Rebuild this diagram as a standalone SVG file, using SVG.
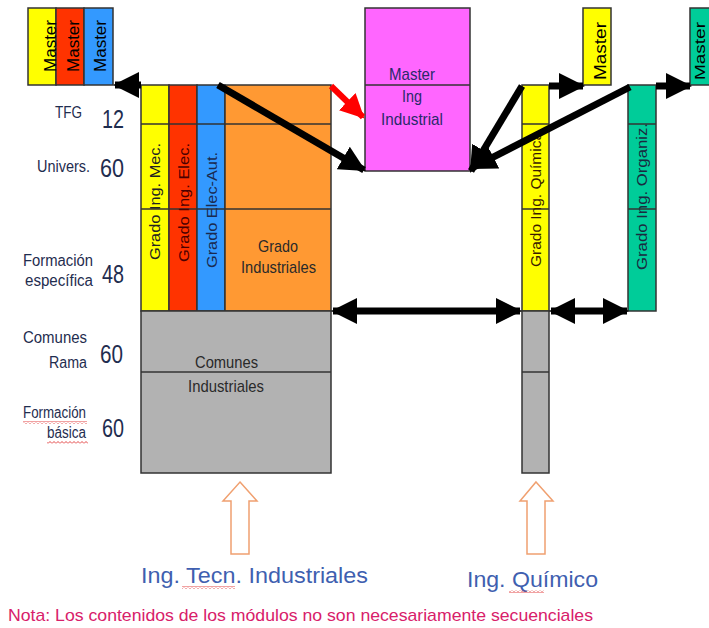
<svg xmlns="http://www.w3.org/2000/svg" width="709" height="628" viewBox="0 0 709 628">
<style>
text{font-family:"Liberation Sans",Arial,sans-serif;}
.box{stroke:#333;stroke-width:1.5;}
.ln{stroke:#333;stroke-width:1.5;}
.lbl{fill:#1f2d4f;font-size:16px;}
.num{fill:#1f2d4f;font-size:26px;}
.in{fill:#2a2a2a;font-size:17px;}
.v{font-size:15px;fill:#222;}
.m{font-size:17px;fill:#000;}
.arr{stroke:#000;stroke-width:7;fill:none;}
.big{fill:#3f5fb0;font-size:22px;}
.hol{fill:#fff;stroke:#f0a070;stroke-width:1.5;}
</style>
<defs>
<marker id="ah" markerUnits="userSpaceOnUse" markerWidth="26" markerHeight="26" refX="24" refY="13" orient="auto-start-reverse" viewBox="0 0 26 26">
<path d="M0,0 L26,13 L0,26 z" fill="#000"/>
</marker>
<marker id="ahr" markerUnits="userSpaceOnUse" markerWidth="24" markerHeight="24" refX="22" refY="12" orient="auto" viewBox="0 0 24 24">
<path d="M0,0 L24,12 L0,24 z" fill="#ff0000"/>
</marker>
<pattern id="sq" width="4" height="3" patternUnits="userSpaceOnUse">
<path d="M0,2.5 L2,0.5 L4,2.5" stroke="#e03030" stroke-width="0.9" fill="none"/>
</pattern>
</defs>

<g id="labels">
<text class="lbl" x="55" y="118" textLength="27" lengthAdjust="spacingAndGlyphs">TFG</text>
<text class="num" x="102" y="128" textLength="22" lengthAdjust="spacingAndGlyphs">12</text>
<text class="lbl" x="37" y="172" textLength="53" lengthAdjust="spacingAndGlyphs">Univers.</text>
<text class="num" x="100" y="177" textLength="24" lengthAdjust="spacingAndGlyphs">60</text>
<text class="lbl" x="23" y="266" textLength="70" lengthAdjust="spacingAndGlyphs">Formación</text>
<text class="lbl" x="25" y="286" textLength="68" lengthAdjust="spacingAndGlyphs">específica</text>
<text class="num" x="102" y="283" textLength="22" lengthAdjust="spacingAndGlyphs">48</text>
<text class="lbl" x="23" y="343" textLength="64" lengthAdjust="spacingAndGlyphs">Comunes</text>
<text class="lbl" x="49" y="368" textLength="38" lengthAdjust="spacingAndGlyphs">Rama</text>
<text class="num" x="100" y="363" textLength="23" lengthAdjust="spacingAndGlyphs">60</text>
<text class="lbl" x="23" y="418" textLength="63" lengthAdjust="spacingAndGlyphs">Formación</text>
<text class="lbl" x="47" y="438" textLength="39" lengthAdjust="spacingAndGlyphs">básica</text>
<text class="num" x="102" y="437" textLength="22" lengthAdjust="spacingAndGlyphs">60</text>
<rect x="23" y="421" width="64" height="3" fill="url(#sq)"/>
<rect x="47" y="441" width="41" height="3" fill="url(#sq)"/>
</g>

<g id="masters-left">
<rect class="box" x="28" y="8" width="28" height="77" fill="#ffff00"/>
<rect class="box" x="56" y="8" width="28" height="77" fill="#ff3300"/>
<rect class="box" x="84" y="8" width="29" height="77" fill="#3399ff"/>
<text class="m" transform="translate(56,72) rotate(-90)" textLength="52" lengthAdjust="spacingAndGlyphs">Master</text>
<text class="m" transform="translate(79,72) rotate(-90)" textLength="52" lengthAdjust="spacingAndGlyphs">Master</text>
<text class="m" transform="translate(106,72) rotate(-90)" textLength="52" lengthAdjust="spacingAndGlyphs">Master</text>
</g>

<g id="ing-tecn-industriales">
<rect class="box" x="141" y="85" width="28" height="226" fill="#ffff00"/>
<rect class="box" x="169" y="85" width="28" height="226" fill="#ff3300"/>
<rect class="box" x="197" y="85" width="28" height="226" fill="#3399ff"/>
<rect class="box" x="225" y="85" width="106" height="226" fill="#ff9933"/>
<line class="ln" x1="141" y1="124" x2="331" y2="124"/>
<line class="ln" x1="141" y1="209" x2="331" y2="209"/>
<rect class="box" x="141" y="311" width="190" height="162" fill="#b2b2b2"/>
<line class="ln" x1="141" y1="372" x2="331" y2="372"/>
<text class="v" transform="translate(160,260) rotate(-90)" textLength="117" lengthAdjust="spacingAndGlyphs" fill="#333">Grado Ing. Mec.</text>
<text class="v" transform="translate(189,262) rotate(-90)" textLength="119" lengthAdjust="spacingAndGlyphs" style="fill:#4a0000">Grado Ing. Elec.</text>
<text class="v" transform="translate(217,268) rotate(-90)" textLength="116" lengthAdjust="spacingAndGlyphs" style="fill:#1a2a50">Grado Elec-Aut.</text>
<text class="in" x="258" y="252" textLength="40" lengthAdjust="spacingAndGlyphs">Grado</text>
<text class="in" x="241" y="273" textLength="75" lengthAdjust="spacingAndGlyphs">Industriales</text>
<text class="in" x="195" y="368" textLength="63" lengthAdjust="spacingAndGlyphs">Comunes</text>
<text class="in" x="188" y="392" textLength="76" lengthAdjust="spacingAndGlyphs">Industriales</text>
</g>

<g id="master-ing-industrial">
<rect class="box" x="365" y="8" width="105" height="163" fill="#ff66ff"/>
<line class="ln" x1="365" y1="85" x2="470" y2="85"/>
<text class="in" x="389" y="80" textLength="46" lengthAdjust="spacingAndGlyphs" style="fill:#2a2a6a">Master</text>
<text class="in" x="402" y="102" textLength="20" lengthAdjust="spacingAndGlyphs" style="fill:#2a2a6a">Ing</text>
<text class="in" x="381" y="125" textLength="62" lengthAdjust="spacingAndGlyphs" style="fill:#2a2a6a">Industrial</text>
</g>

<g id="ing-quimico">
<rect class="box" x="522" y="85" width="27" height="226" fill="#ffff00"/>
<line class="ln" x1="522" y1="124" x2="549" y2="124"/>
<line class="ln" x1="522" y1="209" x2="549" y2="209"/>
<rect class="box" x="522" y="311" width="27" height="162" fill="#b2b2b2"/>
<line class="ln" x1="522" y1="372" x2="549" y2="372"/>
<text class="v" transform="translate(541,267) rotate(-90)" textLength="135" lengthAdjust="spacingAndGlyphs" style="fill:#3a1a00">Grado Ing. Química</text>
</g>

<g id="master-quimico">
<rect class="box" x="583" y="8" width="28" height="77" fill="#ffff00"/>
<text class="m" transform="translate(606,80) rotate(-90)" textLength="58" lengthAdjust="spacingAndGlyphs">Master</text>
</g>

<g id="ing-organizacion">
<rect class="box" x="628" y="85" width="28" height="226" fill="#00cc99"/>
<line class="ln" x1="628" y1="124" x2="656" y2="124"/>
<line class="ln" x1="628" y1="209" x2="656" y2="209"/>
<text class="v" transform="translate(647,270) rotate(-90)" textLength="147" lengthAdjust="spacingAndGlyphs" style="fill:#1a2a40">Grado Ing. Organiz.</text>
</g>

<g id="master-organizacion">
<rect class="box" x="690" y="8" width="30" height="77" fill="#00cc99"/>
<text transform="translate(705,80) rotate(-90)" font-size="15" fill="#000" textLength="58" lengthAdjust="spacingAndGlyphs">Master</text>
</g>

<g id="connectors">
<line class="arr" x1="141" y1="85" x2="115" y2="85" marker-end="url(#ah)"/>
<line class="arr" x1="218" y1="85" x2="364" y2="170" marker-end="url(#ah)"/>
<line x1="331" y1="86" x2="363" y2="117" stroke="#ff0000" stroke-width="6" marker-end="url(#ahr)"/>
<line class="arr" x1="522" y1="86" x2="471" y2="171" marker-end="url(#ah)"/>
<line class="arr" x1="630" y1="87" x2="472" y2="168" marker-end="url(#ah)"/>
<line class="arr" x1="549" y1="86" x2="583" y2="86" marker-end="url(#ah)"/>
<line class="arr" x1="656" y1="86" x2="690" y2="86" marker-end="url(#ah)"/>
<line class="arr" x1="333" y1="311" x2="520" y2="311" marker-start="url(#ah)" marker-end="url(#ah)"/>
<line class="arr" x1="551" y1="311" x2="627" y2="311" marker-start="url(#ah)" marker-end="url(#ah)"/>
</g>

<g id="entry-arrows">
<polygon class="hol" points="240,482 257,501 249,501 249,554 231,554 231,501 223,501"/>
<polygon class="hol" points="536,482 553,501 545,501 545,554 527,554 527,501 520,501"/>
</g>

<g id="titles">
<text class="big" x="141" y="583" textLength="227" lengthAdjust="spacingAndGlyphs">Ing. Tecn. Industriales</text>
<text class="big" x="467" y="587" textLength="131" lengthAdjust="spacingAndGlyphs">Ing. Químico</text>
<rect x="182" y="586" width="53" height="3" fill="url(#sq)"/>
<rect x="509" y="590" width="35" height="3" fill="url(#sq)"/>
<text x="8" y="621" font-size="17" fill="#d8206a" textLength="585" lengthAdjust="spacingAndGlyphs">Nota: Los contenidos de los módulos no son necesariamente secuenciales</text>
</g>
</svg>
